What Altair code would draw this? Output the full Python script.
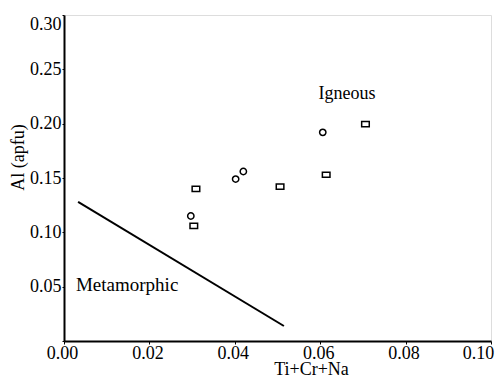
import altair as alt
import pandas as pd

# Data
circle_x = [0.0297, 0.0402, 0.0420, 0.0606]
circle_y = [0.115, 0.149, 0.156, 0.192]
square_x = [0.0304, 0.0309, 0.0506, 0.0614, 0.0706]
square_y = [0.106, 0.140, 0.142, 0.153, 0.1995]
line_x = [0.0033, 0.0515]
line_y = [0.128, 0.0138]
label_text = ["Igneous", "Metamorphic"]
label_x = [0.0663, 0.0028]
label_y = [0.2274, 0.0516]

FONT = "Liberation Serif"
FS = 18

circles = pd.DataFrame({"x": circle_x, "y": circle_y})
squares = pd.DataFrame({"x": square_x, "y": square_y})
line_df = pd.DataFrame({"x": line_x, "y": line_y})
labels = pd.DataFrame({"t": label_text, "x": label_x, "y": label_y})

xs = alt.Scale(domain=[0, 0.10], nice=False, zero=False)
ys = alt.Scale(domain=[0, 0.30], nice=False, zero=False)

xax = alt.Axis(values=[0, 0.02, 0.04, 0.06, 0.08, 0.10], format=".2f", grid=False,
               domainColor="black", domainWidth=2, tickColor="black", tickSize=3,
               labelFont=FONT, labelFontSize=FS, labelColor="black", labelPadding=0,
               labelFlush=False,
               labelOffset={"condition": {"test": "datum.value >= 0.099", "value": -13}, "value": -2},
               title="Ti+Cr+Na", titleFont=FONT, titleFontSize=FS, titleFontWeight="normal",
               titleColor="black", titleX=247, titleY=33, titleAlign="center",
               titleBaseline="alphabetic")
yax = alt.Axis(values=[0, 0.05, 0.10, 0.15, 0.20, 0.25, 0.30], format=".2f", grid=False,
               labelExpr="datum.value == 0 ? '' : datum.label",
               domainColor="black", domainWidth=2, tickColor="black", tickSize=2,
               labelFont=FONT, labelFontSize=FS, labelColor="black", labelPadding=1,
               labelFlush=True, labelFlushOffset=0,
               title="Al (apfu)", titleFont=FONT, titleFontSize=FS, titleFontWeight="normal",
               titleColor="black", titleX=-46, titleY=142, titleAngle=270,
               titleAlign="center", titleBaseline="middle")

base_x = alt.X("x:Q", scale=xs, axis=xax)
base_y = alt.Y("y:Q", scale=ys, axis=yax)

line = alt.Chart(line_df).mark_line(color="black", strokeWidth=2).encode(x=base_x, y=base_y)

circ = alt.Chart(circles).mark_point(shape="circle", size=40, filled=False,
                                     color="black", strokeWidth=1.5, opacity=1).encode(
    x=alt.X("x:Q", scale=xs), y=alt.Y("y:Q", scale=ys))

rect_path = "M-0.95,-0.65 L0.95,-0.65 L0.95,0.65 L-0.95,0.65 Z"
sq = alt.Chart(squares).mark_point(shape=rect_path, size=64, filled=False,
                                   color="black", strokeWidth=1.5, opacity=1).encode(
    x=alt.X("x:Q", scale=xs), y=alt.Y("y:Q", scale=ys))

txt_ig = alt.Chart(labels.iloc[[0]]).mark_text(font=FONT, fontSize=FS, color="black",
                                               align="center", baseline="middle").encode(
    x=alt.X("x:Q", scale=xs), y=alt.Y("y:Q", scale=ys), text="t:N")
txt_me = alt.Chart(labels.iloc[[1]]).mark_text(font=FONT, fontSize=19, color="black",
                                               align="left", baseline="middle").encode(
    x=alt.X("x:Q", scale=xs), y=alt.Y("y:Q", scale=ys), text="t:N")

chart = alt.layer(line, circ, sq, txt_ig, txt_me).properties(
    width=427, height=326,
    autosize=alt.AutoSizeParams(type="none"),
    padding={"left": 56, "top": 7, "right": 4, "bottom": 36},
).configure_view(stroke="black", strokeWidth=2).configure(background="white")

chart.save("out.html", embed_options={"renderer": "svg", "actions": False})
